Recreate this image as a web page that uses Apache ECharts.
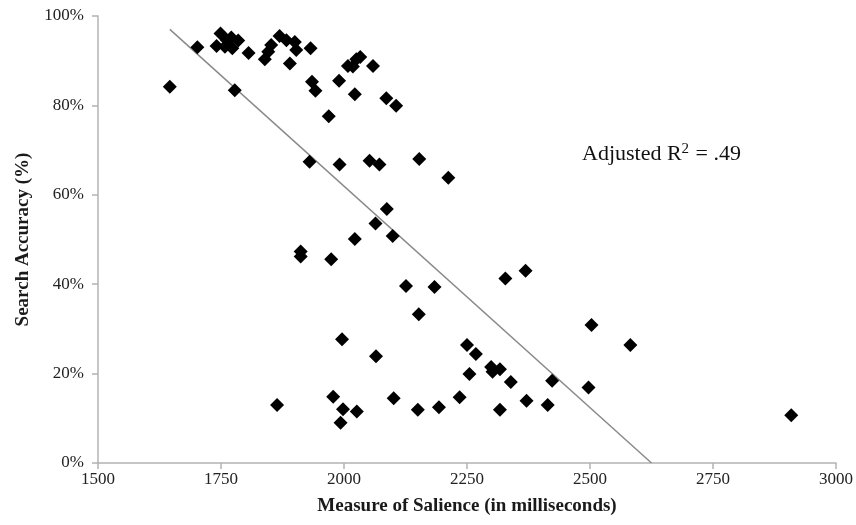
<!DOCTYPE html>
<html>
<head>
<meta charset="utf-8">
<script src="https://cdn.jsdelivr.net/npm/echarts@6/dist/echarts.min.js"></script>
<style>
html,body{margin:0;padding:0;background:#fff;}
#chart{width:856px;height:525px;}
</style>
</head>
<body>
<div id="chart"></div>
<script>
// Salience (ms) and search accuracy (%) for each observation
const salienceMs = [
  1646, 1702, 1749, 1741, 1758, 1762, 1771, 1773, 1785, 1778,
  1806, 1839, 1846, 1852, 1869, 1883, 1900, 1903, 1890, 1932,
  1935, 1942, 1969, 1990, 2008, 2018, 2025, 2033, 2059, 2022,
  2086, 2106, 1930, 1991, 2052, 2072, 2153, 2212, 2087, 2064,
  2099, 2022, 1912, 1912, 1974, 2126, 2184, 2152, 2328, 2369,
  1996, 2065, 2250, 2268, 2299, 2302, 2317, 2255, 2339, 2423,
  2497, 2503, 2582, 2235, 2193, 2317, 2371, 2414, 1864, 1978,
  1998, 1993, 2026, 2101, 2150, 2909
];
const accuracyPct = [
  84.2, 93.0, 96.1, 93.3, 93.1, 94.6, 95.2, 92.8, 94.5, 83.4,
  91.7, 90.3, 92.0, 93.5, 95.5, 94.6, 94.2, 92.4, 89.4, 92.8,
  85.3, 83.3, 77.6, 85.5, 88.8, 88.7, 90.3, 90.8, 88.8, 82.5,
  81.6, 79.9, 67.4, 66.8, 67.6, 66.8, 68.0, 63.8, 56.8, 53.6,
  50.8, 50.1, 47.3, 46.2, 45.6, 39.6, 39.4, 33.3, 41.3, 43.0,
  27.7, 23.9, 26.4, 24.4, 21.5, 20.4, 21.0, 19.9, 18.1, 18.4,
  16.9, 30.9, 26.4, 14.7, 12.5, 11.9, 13.9, 13.0, 13.0, 14.8,
  12.0, 9.0, 11.5, 14.5, 11.9, 10.7
];
// Linear trend line end points (as drawn, clipped at 0%)
const trendX = [1646, 2625];
const trendY = [97.0, 0];
const xTicks = [1500, 1750, 2000, 2250, 2500, 2750, 3000];
const yTicks = [0, 20, 40, 60, 80, 100];
const annotationMain = 'Adjusted R';
const annotationSup = '2';
const annotationTail = ' = .49';

const chart = echarts.init(document.getElementById('chart'), null, {renderer: 'canvas'});
const serif = '"Liberation Serif", "Times New Roman", serif';
const axisColor = '#b3b3b3';

chart.setOption({
  animation: false,
  backgroundColor: '#ffffff',
  grid: {left: 98, right: 19, top: 16, bottom: 62},
  xAxis: {
    type: 'value', min: xTicks[0], max: xTicks[xTicks.length - 1], interval: 250,
    name: 'Measure of Salience (in milliseconds)',
    nameLocation: 'middle', nameGap: 34,
    nameTextStyle: {fontFamily: serif, fontSize: 19, fontWeight: 'bold', color: '#1a1a1a'},
    axisLine: {show: true, lineStyle: {color: axisColor, width: 1.5}},
    axisTick: {show: true, inside: false, length: 6, lineStyle: {color: axisColor, width: 1.5}},
    axisLabel: {fontFamily: serif, fontSize: 17, color: '#222', margin: 8, formatter: v => String(v)},
    splitLine: {show: false}
  },
  yAxis: {
    type: 'value', min: yTicks[0], max: yTicks[yTicks.length - 1], interval: 20,
    name: 'Search Accuracy (%)',
    nameLocation: 'middle', nameGap: 65, nameRotate: 90,
    nameTextStyle: {fontFamily: serif, fontSize: 19, fontWeight: 'bold', color: '#1a1a1a'},
    axisLine: {show: true, lineStyle: {color: axisColor, width: 1.5}},
    axisTick: {show: true, inside: false, length: 6, lineStyle: {color: axisColor, width: 1.5}},
    axisLabel: {fontFamily: serif, fontSize: 17, color: '#222', margin: 14, formatter: v => v + '%'},
    splitLine: {show: false}
  },
  series: [
    {
      type: 'line',
      data: trendX.map((x, i) => [x, trendY[i]]),
      symbol: 'none',
      lineStyle: {color: '#8a8a8a', width: 1.5},
      silent: true, z: 1
    },
    {
      type: 'scatter',
      data: salienceMs.map((x, i) => [x, accuracyPct[i]]),
      symbol: 'diamond',
      symbolSize: 14,
      itemStyle: {color: '#000000', opacity: 1},
      z: 2
    }
  ],
  graphic: [
    {
      type: 'text',
      left: 582, top: 142,
      style: {
        text: annotationMain + '{sup|' + annotationSup + '}' + annotationTail,
        fontFamily: serif, fontSize: 22, fill: '#111',
        rich: {
          sup: {fontFamily: serif, fontSize: 15, fill: '#111', verticalAlign: 'top', padding: [0, 1, 10, 0]}
        }
      }
    }
  ]
});
</script>
</body>
</html>
